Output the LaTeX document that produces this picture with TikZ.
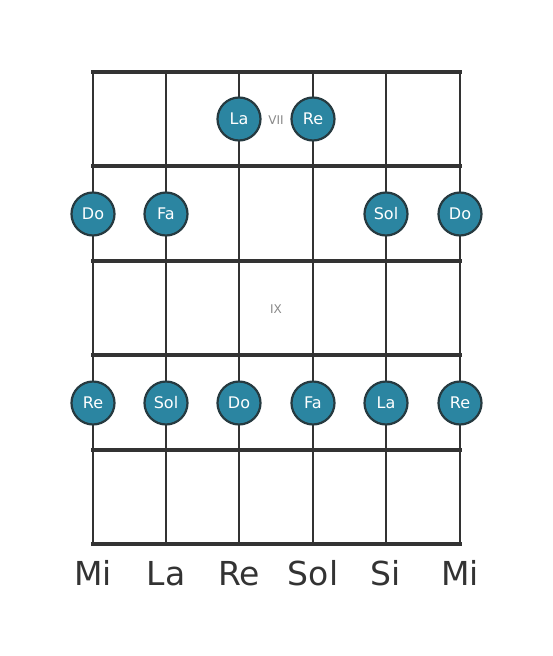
\documentclass[tikz,border=0pt]{standalone}
\usepackage{fontspec}
\setmainfont{DejaVu Sans}
\definecolor{linec}{HTML}{333333}
\definecolor{notec}{HTML}{2B85A1}
\definecolor{notebd}{HTML}{263A40}
\definecolor{fretlbl}{HTML}{888888}
\tikzset{
  stringline/.style={draw=linec, line width=2.6pt},
  fretline/.style={draw=linec, line width=4.6pt},
  note/.style={circle, fill=notec, draw=notebd, line width=2.2pt, minimum size=43pt, inner sep=0pt, text=white, font=\fontsize{16}{16}\selectfont},
  fretnum/.style={text=fretlbl, font=\fontsize{12}{12}\selectfont},
  strname/.style={text=linec, font=\fontsize{33}{33}\selectfont, anchor=base}
}
\begin{document}
\begin{tikzpicture}[x=1pt,y=-1pt]
\useasboundingbox (0,0) rectangle (553,656);
% string coordinates
\foreach \n/\x in {1/93,2/166,3/239,4/313,5/386,6/460}{
  \coordinate (st\n) at (\x,72);
  \coordinate (sb\n) at (\x,544);
}
\foreach \n in {1,...,6}{ \draw[stringline] (st\n) -- (sb\n); }
\foreach \f/\y in {0/72,1/166,2/261,3/355,4/450,5/544}{
  \coordinate (fl\f) at (93,\y);
  \coordinate (fr\f) at (460,\y);
  \draw[fretline, line cap=rect] (fl\f) -- (fr\f);
}
% fret numbers
\node[fretnum] (vii) at (276,120) {VII};
\node[fretnum] (ix) at (276,309) {IX};
% notes
\node[note] (n1) at (239,119) {La};
\node[note] (n2) at (313,119) {Re};
\node[note] (n3) at (93,214) {Do};
\node[note] (n4) at (166,214) {Fa};
\node[note] (n5) at (386,214) {Sol};
\node[note] (n6) at (460,214) {Do};
\node[note] (n7) at (93,403) {Re};
\node[note] (n8) at (166,403) {Sol};
\node[note] (n9) at (239,403) {Do};
\node[note] (n10) at (313,403) {Fa};
\node[note] (n11) at (386,403) {La};
\node[note] (n12) at (460,403) {Re};
% string names
\node[strname] (s1) at (93,585) {Mi};
\node[strname] (s2) at (166,585) {La};
\node[strname] (s3) at (239,585) {Re};
\node[strname] (s4) at (313,585) {Sol};
\node[strname] (s5) at (386,585) {Si};
\node[strname] (s6) at (460,585) {Mi};
\end{tikzpicture}
\end{document}
